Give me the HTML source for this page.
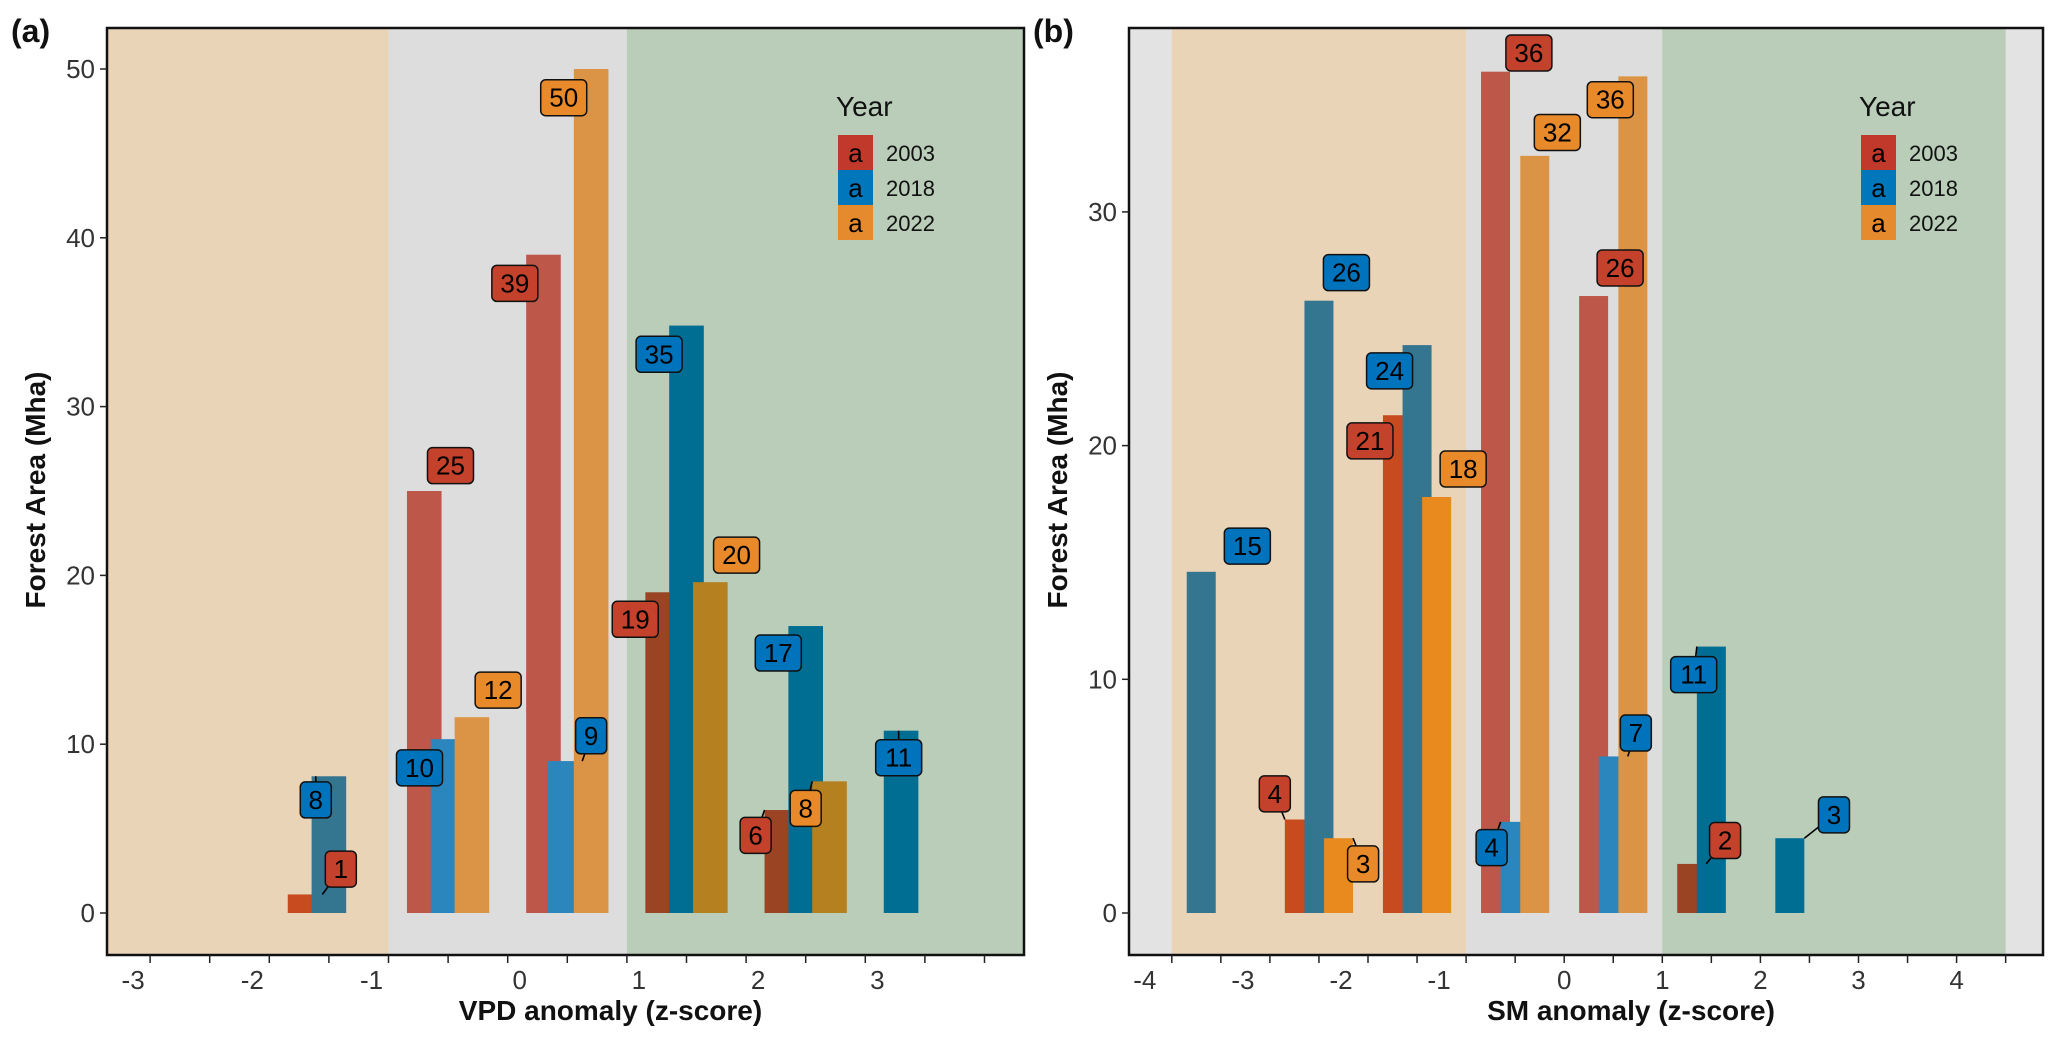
<!DOCTYPE html>
<html><head><meta charset="utf-8"><style>
html,body{margin:0;padding:0;background:#fff;}
svg{display:block;font-family:"Liberation Sans",Arial,sans-serif;}
</style></head><body>
<svg id="chart" width="2067" height="1045" viewBox="0 0 2067 1045"></svg>
<script>
// ---- Panel (a) VPD data ----
const aX2003=[-1.7,-0.7,0.3,1.3,2.3];
const aV2003=[1.1,25,39,19,6.1];
const aX2018=[-1.5,-0.5,0.48,1.5,2.5,3.3];
const aV2018=[8.1,10.3,9,34.8,17,10.8];
const aX2022=[-0.3,0.7,1.7,2.7];
const aV2022=[11.6,50,19.6,7.8];
const aLX2003=[-1.40,-0.48,0.06,1.07,2.08];
const aLY2003=[2.6,26.5,37.3,17.4,4.6];
const aLX2018=[-1.61,-0.74,0.70,1.27,2.27,3.28];
const aLY2018=[6.7,8.6,10.5,33.1,15.4,9.2];
const aLX2022=[-0.08,0.47,1.92,2.50];
const aLY2022=[13.2,48.3,21.2,6.2];
const aLead2003=[1,0,0,0,1], aLead2018=[1,0,1,0,0,1], aLead2022=[0,0,0,1];
const aC2003=['#c84b1f','#bd574a','#bd574a','#9a4424','#9a4424'];
const aC2018=['#347590','#2b86bd','#2b86bd','#006e92','#006e92','#006e92'];
const aC2022=['#db9445','#db9445','#b5801f','#b5801f'];
const aXTicks=[-3,-2,-1,0,1,2,3];
const aYTicks=[0,10,20,30,40,50];
// ---- Panel (b) SM data ----
const bX2003=[-2.7,-1.7,-0.7,0.3,1.3];
const bV2003=[4.0,21.3,36.0,26.4,2.1];
const bX2018=[-3.7,-2.5,-1.5,-0.5,0.5,1.5,2.3];
const bV2018=[14.6,26.2,24.3,3.9,6.7,11.4,3.2];
const bX2022=[-2.3,-1.3,-0.3,0.7];
const bV2022=[3.2,17.8,32.4,35.8];
const bLX2003=[-2.95,-1.98,-0.36,0.57,1.64];
const bLY2003=[5.1,20.2,36.8,27.6,3.1];
const bLX2018=[-3.23,-2.22,-1.78,-0.74,0.73,1.32,2.75];
const bLY2018=[15.7,27.4,23.2,2.8,7.7,10.2,4.2];
const bLX2022=[-2.05,-1.03,-0.07,0.47];
const bLY2022=[2.1,19.0,33.4,34.8];
const bLead2003=[1,0,0,0,1], bLead2018=[0,0,0,1,1,1,1], bLead2022=[1,0,0,0];
const bC2003=['#c84b1f','#c84b1f','#bd574a','#bd574a','#9a4424'];
const bC2018=['#347590','#347590','#347590','#2b86bd','#2b86bd','#006e92','#006e92'];
const bC2022=['#e88a1e','#e88a1e','#db9445','#db9445'];
const bXTicks=[-4,-3,-2,-1,0,1,2,3,4];
const bYTicks=[0,10,20,30];
const years=['2003','2018','2022'];
const keyColors=['#c0392b','#0077bb','#e68a2e'];
const labelColors=['#c4412b','#0073bd','#e8892a'];

const NS='http://www.w3.org/2000/svg';
const svg=document.getElementById('chart');
function mk(tag,attrs,parent){const e=document.createElementNS(NS,tag);for(const k in attrs)e.setAttribute(k,attrs[k]);(parent||svg).appendChild(e);return e;}

function panel(cfg){
  const g=mk('g',{});
  
  
  const sx=v=>cfg.x0+v*cfg.ux, sy=v=>cfg.y0-v*cfg.uy;
  // backgrounds
  const bg=mk('rect',{x:cfg.L,y:cfg.T,width:cfg.R-cfg.L,height:cfg.B-cfg.T,fill:'#e3e3e3'},g);
  
  
  cfg.zones.forEach(z=>{
    const x1=Math.max(cfg.L,sx(z[0])),x2=Math.min(cfg.R,sx(z[1]));
    const r=mk('rect',{x:x1,y:cfg.T,width:x2-x1,height:cfg.B-cfg.T,fill:z[2]},g);
    
    
  });
  // bars
  const series=cfg.series;
  series.forEach((s,si)=>{
    s.x.forEach((xv,i)=>{
      const bx=sx(xv)-cfg.bw/2, by=sy(s.v[i]);
      const r=mk('rect',{x:bx,y:by,width:cfg.bw,height:sy(0)-by,fill:s.c[i]},g);
      
      
    });
  });
  // labels
  series.forEach((s,si)=>{
    s.x.forEach((xv,i)=>{
      const lx=sx(s.lx[i]), ly=sy(s.ly[i]);
      const bl=sx(xv)-cfg.bw/2, br=sx(xv)+cfg.bw/2, bt=sy(s.v[i]);
      if(s.lead[i]){
        const ex=Math.min(br,Math.max(bl,lx));
        const ln=mk('line',{x1:lx,y1:ly,x2:ex,y2:bt,stroke:'#000','stroke-width':1.6},g);
        
        
      }
      const txt=String(Math.round(s.v[i]));
      const w=txt.length>1?46:31, h=36;
      const box=mk('rect',{x:lx-w/2,y:ly-h/2,width:w,height:h,rx:5,fill:labelColors[si],stroke:'#111','stroke-width':1.5},g);
      
      
      const t=mk('text',{x:lx,y:ly+9,'text-anchor':'middle','font-size':26,fill:'#000'},g);
      t.textContent=txt;
      
      
    });
  });
  // frame
  const fr=mk('rect',{x:cfg.L,y:cfg.T,width:cfg.R-cfg.L,height:cfg.B-cfg.T,fill:'none',stroke:'#111','stroke-width':2.5},g);
  
  
  // x ticks every 0.5
  for(let v=Math.ceil((cfg.L-cfg.x0)/cfg.ux*2)/2; sx(v)<=cfg.R; v+=0.5){
    const tk=mk('line',{x1:sx(v),y1:cfg.B,x2:sx(v),y2:cfg.B+8,stroke:'#222','stroke-width':1.5},g);
    
    
  }
  cfg.xt.forEach(v=>{
    const off=v<0?cfg.negOff:cfg.posOff;
    const t=mk('text',{x:sx(v)+off,y:cfg.B+34,'text-anchor':'middle','font-size':26,fill:'#333'},g);
    t.textContent=String(v);
    
    
  });
  cfg.yt.forEach(v=>{
    const tk=mk('line',{x1:cfg.L-7,y1:sy(v),x2:cfg.L,y2:sy(v),stroke:'#222','stroke-width':1.5},g);
    
    
    const t=mk('text',{x:cfg.L-12,y:sy(v)+9,'text-anchor':'end','font-size':26,fill:'#333'},g);
    t.textContent=String(v);
    
    
  });
  const xt=mk('text',{x:(cfg.L+cfg.R)/2+45,y:1020,'text-anchor':'middle','font-size':28,'font-weight':'bold',fill:'#111'},g);
  xt.textContent=cfg.xtitle;
  
  
  const yt=mk('text',{x:0,y:0,'text-anchor':'middle','font-size':28,'font-weight':'bold',fill:'#111',transform:`translate(${cfg.L-62},490) rotate(-90)`},g);
  yt.textContent='Forest Area (Mha)';
  
  
  const pl=mk('text',{x:cfg.L-96,y:42,'font-size':32,'font-weight':'bold',fill:'#111'},g);
  pl.textContent=cfg.letter;
  
  
  // legend
  const lg=mk('g',{},g);
  
  
  const lt=mk('text',{x:cfg.legX-2,y:116,'font-size':28,fill:'#111'},lg);
  lt.textContent='Year';
  
  
  years.forEach((y,i)=>{
    const ty=135+i*35;
    const kr=mk('rect',{x:cfg.legX,y:ty,width:35,height:35,fill:keyColors[i]},lg);
    
    
    const ka=mk('text',{x:cfg.legX+17.5,y:ty+27,'text-anchor':'middle','font-size':26,fill:'#000'},lg);
    ka.textContent='a';
    
    
    const kt=mk('text',{x:cfg.legX+48,y:ty+26,'font-size':22,fill:'#111'},lg);
    kt.textContent=y;
    
    
  });
}

panel({name:'panel-a-vpd',L:107,R:1024,T:28,B:955,x0:507.7,ux:119.2,y0:913,uy:16.88,bw:34.6,
  zones:[[-10,-1,'#ead4b8','dry-zone'],[-1,1,'#dddddd','neutral-zone'],[1,10,'#b9cdb9','wet-zone']],
  series:[{x:aX2003,v:aV2003,lx:aLX2003,ly:aLY2003,lead:aLead2003,c:aC2003},
          {x:aX2018,v:aV2018,lx:aLX2018,ly:aLY2018,lead:aLead2018,c:aC2018},
          {x:aX2022,v:aV2022,lx:aLX2022,ly:aLY2022,lead:aLead2022,c:aC2022}],
  xt:aXTicks,yt:aYTicks,negOff:-17,posOff:12,xtitle:'VPD anomaly (z-score)',letter:'(a)',legX:838});
panel({name:'panel-b-sm',L:1129,R:2043,T:28,B:955,x0:1564.2,ux:98.1,y0:913,uy:23.37,bw:29,
  zones:[[-4,-1,'#ead4b8','dry-zone'],[-1,1,'#dddddd','neutral-zone'],[1,4.5,'#b9cdb9','wet-zone']],
  series:[{x:bX2003,v:bV2003,lx:bLX2003,ly:bLY2003,lead:bLead2003,c:bC2003},
          {x:bX2018,v:bV2018,lx:bLX2018,ly:bLY2018,lead:bLead2018,c:bC2018},
          {x:bX2022,v:bV2022,lx:bLX2022,ly:bLY2022,lead:bLead2022,c:bC2022}],
  xt:bXTicks,yt:bYTicks,negOff:-27,posOff:0,xtitle:'SM anomaly (z-score)',letter:'(b)',legX:1861});
</script>
</body></html>
